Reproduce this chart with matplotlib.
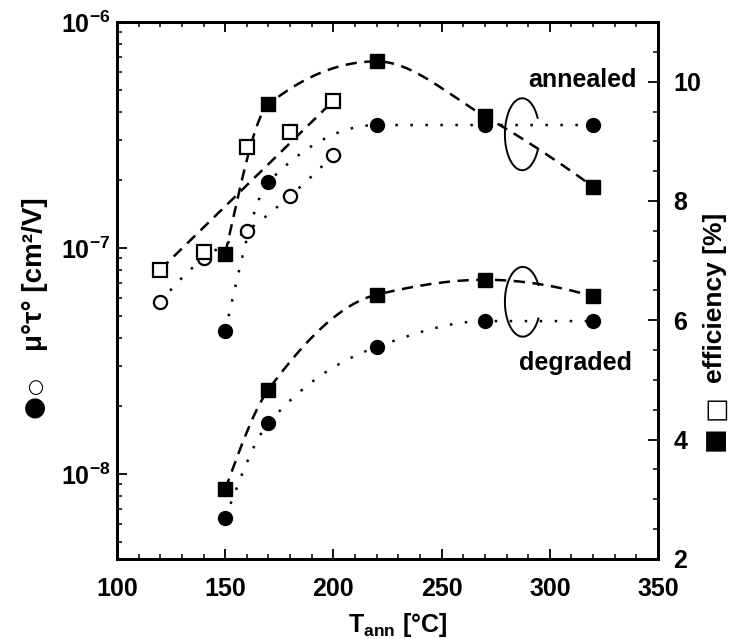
import numpy as np
import matplotlib
matplotlib.use("Agg")
import matplotlib.pyplot as plt
from matplotlib.patches import Arc
from matplotlib.ticker import FixedLocator, MultipleLocator, FuncFormatter, LogLocator, NullFormatter

plt.rcParams['font.family'] = ['Liberation Sans', 'DejaVu Sans']
plt.rcParams['font.weight'] = 'bold'
plt.rcParams['mathtext.fontset'] = 'custom'
plt.rcParams['mathtext.rm'] = 'Liberation Sans:bold'
plt.rcParams['mathtext.it'] = 'Liberation Sans:bold'
plt.rcParams['mathtext.bf'] = 'Liberation Sans:bold'

# ---------------- data ----------------
# annealed state
T_ann_open = [120, 140, 160, 180, 200]
mutau_ann_open = [5.77e-8, 9.0e-8, 1.19e-7, 1.70e-7, 2.58e-7]
eff_ann_open = [6.85, 7.15, 8.91, 9.16, 9.68]

T_filled = [150, 170, 220, 270, 320]
mutau_ann_filled = [4.3e-8, 1.96e-7, 3.5e-7, 3.5e-7, 3.5e-7]
eff_ann_filled = [7.12, 9.62, 10.34, 9.42, 8.24]

# degraded state
mutau_deg_filled = [6.4e-9, 1.68e-8, 3.65e-8, 4.75e-8, 4.75e-8]
eff_deg_filled = [3.17, 4.84, 6.43, 6.68, 6.40]

xticks = [100, 150, 200, 250, 300, 350]
eff_ticks = [2, 4, 6, 8, 10]
mutau_ticks = [1e-8, 1e-7, 1e-6]


def pchip_slopes(x, y):
    h = np.diff(x)
    d = np.diff(y) / h
    n = len(x)
    m = np.zeros(n)
    for k in range(1, n - 1):
        if d[k - 1] * d[k] <= 0:
            m[k] = 0.0
        else:
            w1 = 2 * h[k] + h[k - 1]
            w2 = h[k] + 2 * h[k - 1]
            m[k] = (w1 + w2) / (w1 / d[k - 1] + w2 / d[k])
    def end(h0, h1, d0, d1):
        s = ((2 * h0 + h1) * d0 - h0 * d1) / (h0 + h1)
        if np.sign(s) != np.sign(d0):
            s = 0.0
        elif np.sign(d0) != np.sign(d1) and abs(s) > abs(3 * d0):
            s = 3 * d0
        return s
    m[0] = end(h[0], h[1], d[0], d[1])
    m[-1] = end(h[-1], h[-2], d[-1], d[-2])
    return m


def smooth(x, y, n=300):
    x = np.asarray(x, float)
    y = np.asarray(y, float)
    m = pchip_slopes(x, y)
    xs = np.linspace(x[0], x[-1], n)
    idx = np.clip(np.searchsorted(x, xs, side='right') - 1, 0, len(x) - 2)
    h = x[idx + 1] - x[idx]
    t = (xs - x[idx]) / h
    h00 = 2 * t**3 - 3 * t**2 + 1
    h10 = t**3 - 2 * t**2 + t
    h01 = -2 * t**3 + 3 * t**2
    h11 = t**3 - t**2
    ys = h00 * y[idx] + h10 * h * m[idx] + h01 * y[idx + 1] + h11 * h * m[idx + 1]
    return xs, ys


W, H = 751, 639
fig = plt.figure(figsize=(W / 100, H / 100), dpi=100)
ax = fig.add_axes([117 / W, 1 - 559 / H, 541 / W, 537 / H])
ax2 = ax.twinx()

lw = 1.8
dash = (4.5, 3.0)
dot = (1.0, 5.0)

# ---- mu-tau (left, log) ----
ax.set_yscale('log')
for xv, yv in [(T_ann_open, mutau_ann_open), (T_filled, mutau_ann_filled), (T_filled, mutau_deg_filled)]:
    xs, ls = smooth(xv, np.log10(yv))
    ax.plot(xs, 10**ls, color='black', lw=lw, dashes=dot)
ax.plot(T_ann_open, mutau_ann_open, 'o', ms=9.5, mfc='white', mec='black', mew=1.6, ls='none')
ax.plot(T_filled, mutau_ann_filled, 'o', ms=10, mfc='black', mec='black', ls='none')
ax.plot(T_filled, mutau_deg_filled, 'o', ms=10, mfc='black', mec='black', ls='none')

# ---- efficiency (right, linear) ----
ax2.plot([T_ann_open[0], T_ann_open[-1]], [eff_ann_open[0], eff_ann_open[-1]],
         color='black', lw=lw, dashes=dash)
for xv, yv in [(T_filled, eff_ann_filled), (T_filled, eff_deg_filled)]:
    xs, ys = smooth(xv, yv)
    ax2.plot(xs, ys, color='black', lw=lw, dashes=dash)
ax2.plot(T_ann_open, eff_ann_open, 's', ms=10, mfc='white', mec='black', mew=1.6, ls='none')
ax2.plot(T_filled, eff_ann_filled, 's', ms=10, mfc='black', mec='black', ls='none')
ax2.plot(T_filled, eff_deg_filled, 's', ms=10, mfc='black', mec='black', ls='none')

# ---- axes limits / ticks ----
ax.set_xlim(100, 350)
ax.set_ylim(10**-8.376, 1e-6)
ax2.set_ylim(2, 11)

fs = 18
ax.xaxis.set_major_locator(FixedLocator(xticks))
ax.xaxis.set_minor_locator(MultipleLocator(10))
ax.yaxis.set_major_locator(FixedLocator(mutau_ticks))
ax.yaxis.set_minor_locator(LogLocator(base=10, subs=np.arange(2, 10)))
ax.yaxis.set_minor_formatter(NullFormatter())
ax.yaxis.set_major_formatter(FuncFormatter(lambda v, p: r"$\mathrm{10^{%d}}$" % int(round(np.log10(v)))))

ax.tick_params(axis='x', which='both', direction='in', top=True, bottom=True, labelsize=fs, pad=13)
ax.tick_params(axis='y', which='both', direction='in', left=True, right=False, labelsize=fs, pad=5)
ax.tick_params(which='major', length=7, width=1.3)
ax.tick_params(which='minor', length=3.5, width=1.1)

ax2.yaxis.set_major_locator(FixedLocator(eff_ticks))
ax2.yaxis.set_minor_locator(MultipleLocator(0.5))
ax2.tick_params(axis='y', which='both', direction='in', labelsize=fs, pad=11)
ax2.tick_params(which='major', length=7, width=1.3)
ax2.tick_params(which='minor', length=3.5, width=1.1)

for a in (ax, ax2):
    for s in a.spines.values():
        s.set_linewidth(2.0)

# ---- annotation arcs and labels ----
ax.add_patch(Arc((0.749, 0.791), 0.064, 0.134, theta1=45, theta2=315,
                 transform=ax.transAxes, color='black', lw=1.4))
ax.add_patch(Arc((0.750, 0.479), 0.066, 0.130, theta1=45, theta2=315,
                 transform=ax.transAxes, color='black', lw=1.4))
ax.text(0.86, 0.892, 'annealed', transform=ax.transAxes, ha='center', va='center',
        fontsize=fs, fontweight='bold')
ax.text(0.848, 0.365, 'degraded', transform=ax.transAxes, ha='center', va='center',
        fontsize=fs, fontweight='bold')


def fx(px):
    return px / W


def fy(py):
    return 1 - py / H


fam = ['DejaVu Sans']
# left axis label
fig.text(fx(35), fy(407), '●', rotation=90, ha='center', va='center', fontsize=19, family=fam)
fig.text(fx(35), fy(385), '○', rotation=90, ha='center', va='center', fontsize=14, family=fam,
         fontweight='bold')
fig.text(fx(35), fy(274), 'μ°τ° [cm²/V]', rotation=90, ha='center', va='center',
         fontsize=20, fontweight='bold')
# right axis label
fig.text(fx(715), fy(439), '■', rotation=90, ha='center', va='center', fontsize=19, family=fam)
fig.text(fx(715), fy(408), '□', rotation=90, ha='center', va='center', fontsize=19, family=fam)
fig.text(fx(715), fy(298), 'efficiency [%]', rotation=90, ha='center', va='center',
         fontsize=19, fontweight='bold')
# x label
fig.text(0.529, 0.011, r'T$_{\mathrm{ann}}$ [°C]', ha='center', va='baseline',
         fontsize=fs, fontweight='bold')

fig.savefig('out.png', dpi=100)
